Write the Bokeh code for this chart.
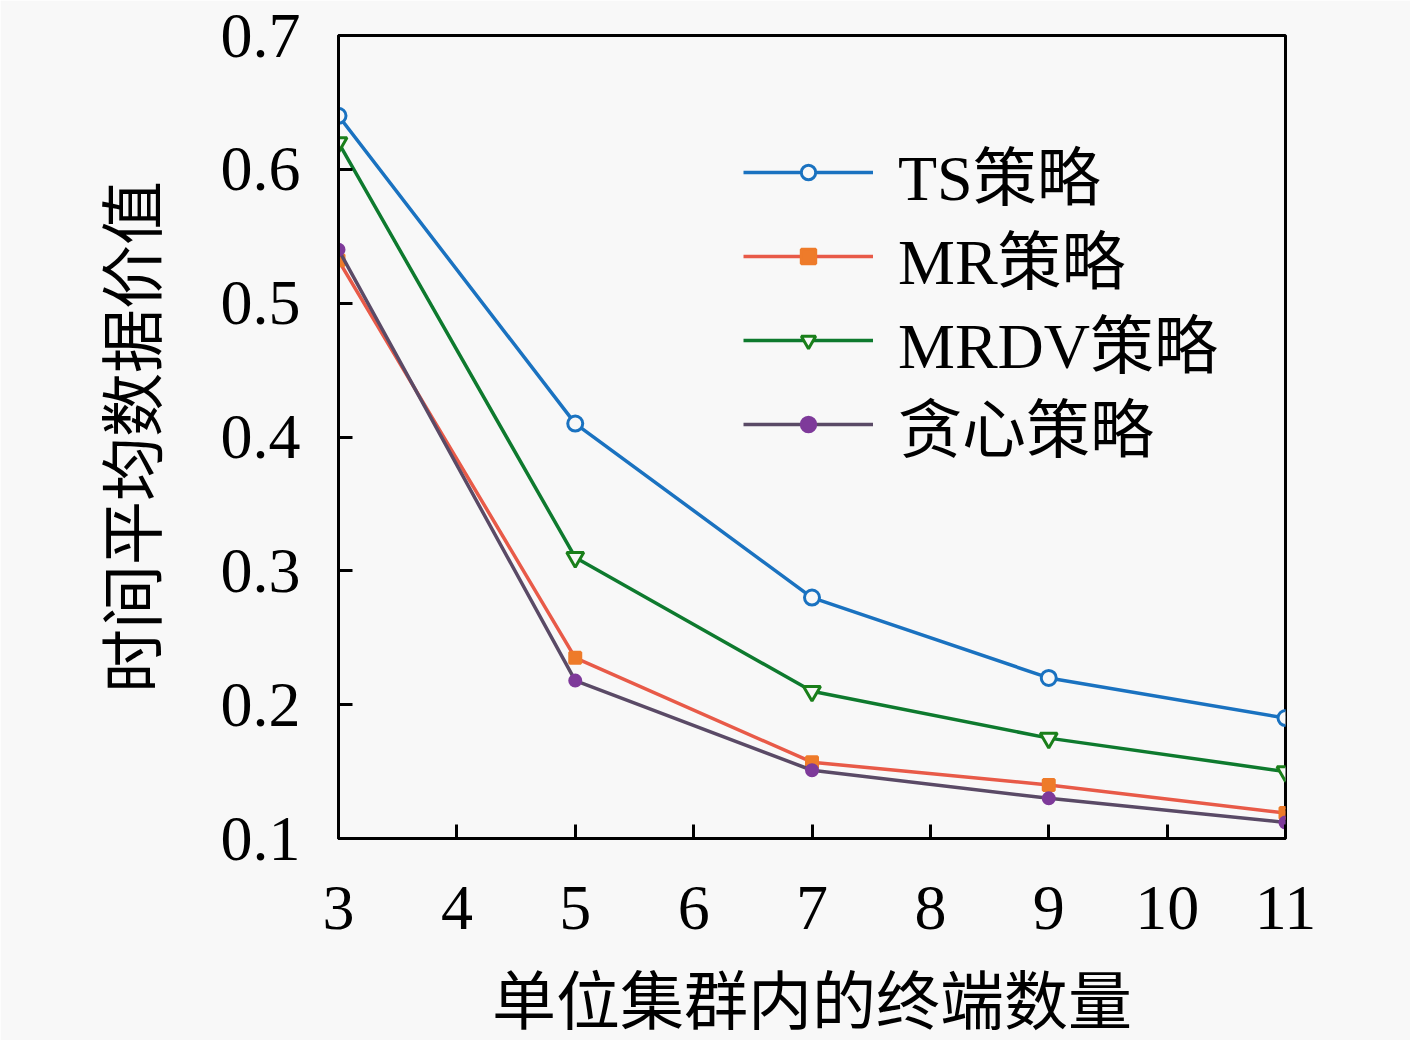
from bokeh.plotting import figure
from bokeh.embed import file_html
from bokeh.resources import INLINE
from bokeh.models import Range1d, FixedTicker, Legend

x = [3, 5, 7, 9, 11]
ts = [0.640, 0.410, 0.280, 0.220, 0.190]
mr = [0.532, 0.235, 0.157, 0.140, 0.119]
mrdv = [0.620, 0.310, 0.210, 0.175, 0.150]
greedy = [0.540, 0.218, 0.151, 0.130, 0.112]
x_ticks = [3, 4, 5, 6, 7, 8, 9, 10, 11]
y_ticks = [0.1, 0.2, 0.3, 0.4, 0.5, 0.6, 0.7]
names = ["TS策略", "MR策略", "MRDV策略", "贪心策略"]

FONT = "'Liberation Serif', 'Noto Sans CJK SC', serif"
BG = "#F8F8F8"

p = figure(width=1410, height=1040, output_backend="svg", toolbar_location=None,
           x_range=Range1d(3, 11), y_range=Range1d(0.1, 0.7),
           min_border_left=338, min_border_right=125, min_border_top=35,
           min_border_bottom=202, background_fill_color=BG,
           border_fill_color=BG)
p.grid.visible = False
p.outline_line_color = "black"
p.outline_line_width = 3

for ax in (p.xaxis[0], p.yaxis[0]):
    ax.major_tick_in = 14
    ax.major_tick_out = 0
    ax.minor_tick_line_color = None
    ax.axis_line_width = 3
    ax.major_tick_line_width = 3
    ax.major_label_text_font = FONT
    ax.major_label_text_font_size = "64px"
    ax.major_label_text_color = "black"
    ax.axis_label_text_font = FONT
    ax.axis_label_text_font_size = "64px"
    ax.axis_label_text_font_style = "normal"
    ax.axis_label_text_color = "black"

p.xaxis.ticker = FixedTicker(ticks=x_ticks)
p.yaxis.ticker = FixedTicker(ticks=y_ticks)
p.yaxis.major_label_overrides = {v: f"{v:.1f}" for v in y_ticks}
p.xaxis.major_label_standoff = 48
p.yaxis.major_label_standoff = 38
p.xaxis.axis_label = "单位集群内的终端数量"
p.yaxis.axis_label = "时间平均数据价值"
p.xaxis.axis_label_standoff = 35
p.yaxis.axis_label_standoff = 48

specs = [
    (ts, "#1A72C0", "#1A72C0", "circle", 15, BG),
    (mr, "#E85A48", "#EE7B2A", "square", 11, "#EE7B2A"),
    (mrdv, "#0E7A2E", "#1A7F1A", "inverted_triangle", 17, BG),
    (greedy, "#5A4A66", "#7E3A9A", "circle", 11, "#7E3A9A"),
]
legend_y = [620, 536, 452, 368]
for name, (ys, lc, mc, mk, sz, fc), ly in zip(names, specs, legend_y):
    r1 = p.line(x, ys, line_color=lc, line_width=3.5)
    r2 = p.scatter(x, ys, marker=mk, size=sz, line_color=mc, fill_color=fc,
                   line_width=3)
    lg = Legend(items=[(name, [r1, r2])], location=(405, ly))
    lg.label_text_font = FONT
    lg.label_text_font_size = "64px"
    lg.label_text_color = "black"
    lg.glyph_width = 130
    lg.glyph_height = 36
    lg.label_height = 84
    lg.label_standoff = 25
    lg.padding = 0
    lg.margin = 0
    lg.border_line_color = None
    lg.background_fill_alpha = 0
    p.add_layout(lg, "center")

open("out.html", "w").write(file_html(p, INLINE))
